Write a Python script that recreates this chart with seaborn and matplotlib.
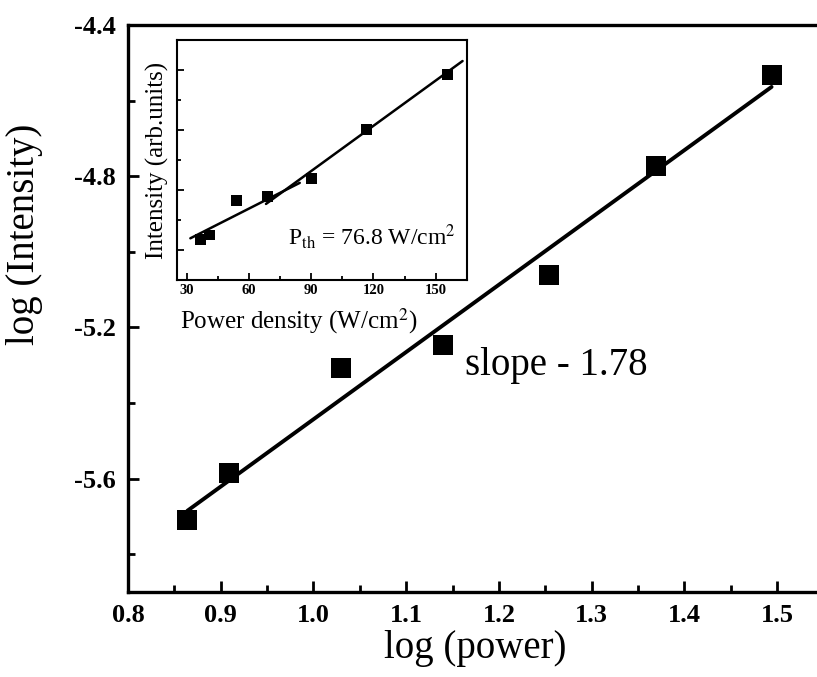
import numpy as np
import pandas as pd
import matplotlib
matplotlib.use("Agg")
import matplotlib.pyplot as plt
from matplotlib.ticker import MultipleLocator
import seaborn as sns

# Main panel: log-log dependence of emission intensity on pump power
log_power = [0.864, 0.909, 1.030, 1.140, 1.254, 1.369, 1.494]
log_intensity = [-5.710, -5.585, -5.307, -5.247, -5.061, -4.773, -4.532]
slope = 1.78
slope_label = "slope - 1.78"

# Inset: intensity versus excitation power density, with threshold
power_density = [36.4, 40.7, 53.7, 68.7, 90.0, 116.7, 155.8]
inset_intensity = [0.18, 0.25, 0.82, 0.89, 1.19, 2.01, 2.93]
p_th = 76.8
below_slope, below_intercept = 0.0175, -0.358
above_slope = 0.0251
below_range = [31.6, 84.4]
above_range = [68.1, 163.0]

x_ticks = [0.8, 0.9, 1.0, 1.1, 1.2, 1.3, 1.4, 1.5]
y_ticks = [-5.6, -5.2, -4.8, -4.4]
inset_x_ticks = [30, 60, 90, 120, 150]

sns.set_theme(style="ticks")
plt.rcParams["font.family"] = ["Liberation Serif", "DejaVu Serif"]
plt.rcParams["mathtext.fontset"] = "stix"
for key in ["text.color", "axes.labelcolor", "xtick.color", "ytick.color",
            "axes.edgecolor"]:
    plt.rcParams[key] = "black"

fig = plt.figure(figsize=(8.17, 6.77), dpi=100)
ax = fig.add_axes([128 / 817, 85 / 677, 695.5 / 817, 567 / 677])

main = pd.DataFrame({"log_power": log_power, "log_intensity": log_intensity})
x0, y0 = np.mean(log_power), np.mean(log_intensity)
fit_x = np.array([min(log_power), max(log_power)])
fit = pd.DataFrame({"x": fit_x, "y": y0 + slope * (fit_x - x0)})

sns.lineplot(data=fit, x="x", y="y", ax=ax, color="black", lw=2.8, zorder=2)
sns.scatterplot(data=main, x="log_power", y="log_intensity", ax=ax,
                marker="s", s=205, color="black", edgecolor="none",
                zorder=3, legend=False)

ax.set_xlim(0.8, 1.55)
ax.set_ylim(-5.9, -4.4)
ax.set_xticks(x_ticks)
ax.set_yticks(y_ticks)
ax.set_xticklabels([f"{t:.1f}" for t in x_ticks])
ax.set_yticklabels([f"{t:.1f}" for t in y_ticks])
ax.xaxis.set_minor_locator(MultipleLocator(0.05))
ax.yaxis.set_minor_locator(MultipleLocator(0.2))
ax.tick_params(which="both", direction="in", width=2.0, top=False, right=False)
ax.tick_params(which="major", length=8, labelsize=19, pad=9)
ax.tick_params(which="minor", length=5)
for lab in ax.get_xticklabels() + ax.get_yticklabels():
    lab.set_fontweight("bold")
for sp in ax.spines.values():
    sp.set_linewidth(2.4)

ax.set_xlabel("log (power)", fontsize=28, labelpad=2)
ax.set_ylabel("log (Intensity)", fontsize=28)
ax.yaxis.set_label_coords(-0.122, 0.63)

ax.text(1.1635, -5.302, slope_label, fontsize=28, ha="left", va="center")

# Inset
ins = fig.add_axes([176.7 / 817, (677 - 280) / 677, 290 / 817, 240 / 677])
inset = pd.DataFrame({"p": power_density, "i": inset_intensity})
y_th = below_slope * p_th + below_intercept
above_intercept = y_th - above_slope * p_th
bx = np.array(below_range)
axx = np.array(above_range)
below = pd.DataFrame({"x": bx, "y": below_slope * bx + below_intercept})
above = pd.DataFrame({"x": axx, "y": above_slope * axx + above_intercept})
sns.lineplot(data=below, x="x", y="y", ax=ins, color="black", lw=1.8)
sns.lineplot(data=above, x="x", y="y", ax=ins, color="black", lw=1.8)
sns.scatterplot(data=inset, x="p", y="i", ax=ins, marker="s", s=60,
                color="black", edgecolor="none", zorder=3, legend=False)

ins.set_xlim(25, 165)
ins.set_ylim(-0.5, 3.5)
ins.set_xticks(inset_x_ticks)
ins.set_xticklabels([str(t) for t in inset_x_ticks])
ins.set_yticks([0, 1, 2, 3])
ins.set_yticklabels([])
ins.xaxis.set_minor_locator(MultipleLocator(15))
ins.yaxis.set_minor_locator(MultipleLocator(0.5))
ins.tick_params(which="both", direction="in", width=1.3, top=False, right=False)
ins.tick_params(which="major", length=5, labelsize=10.5, pad=3)
ins.tick_params(which="minor", length=3)
for lab in ins.get_xticklabels():
    lab.set_fontweight("bold")
for sp in ins.spines.values():
    sp.set_linewidth(1.5)

ins.set_xlabel("Power density (W/cm$^2$)", fontsize=18)
ins.xaxis.set_label_coords(0.42, -0.11)
ins.set_ylabel("Intensity (arb.units)", fontsize=18)
ins.yaxis.set_label_coords(-0.025, 0.5)
ins.text(78.6, 0.23, "P$_{\\mathrm{th}}$ = 76.8 W/cm$^2$", fontsize=17,
         ha="left", va="center")

fig.savefig("out.png", dpi=100)
